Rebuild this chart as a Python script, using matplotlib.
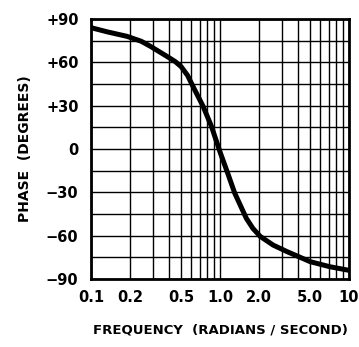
import matplotlib
matplotlib.use("Agg")
import matplotlib.pyplot as plt
from matplotlib.ticker import FixedLocator, NullFormatter, LogLocator

freq = [0.1, 0.135, 0.19, 0.245, 0.29, 0.39, 0.45, 0.5, 0.56, 0.62, 0.74, 0.86, 1.0,
        1.15, 1.3, 1.6, 1.8, 2.05, 2.58, 3.3, 5.0, 7.1, 10]
phase = [84, 81, 78, 74.6, 71, 64, 60.5, 57, 51, 43, 29.5, 15.5, -2,
         -17, -30.5, -48, -55, -60.5, -66.5, -71, -78, -81.5, -84]

xtick_vals = [0.1, 0.2, 0.5, 1.0, 2.0, 5.0, 10]
xtick_labels = ["0.1", "0.2", "0.5", "1.0", "2.0", "5.0", "10"]
ytick_vals = [90, 60, 30, 0, -30, -60, -90]
ytick_labels = ["+90", "+60", "+30", "0", "\u221230", "\u221260", "\u221290"]

plt.rcParams["font.family"] = ["DejaVu Sans"]

fig = plt.figure(figsize=(3.59, 3.47), dpi=100)
ax = fig.add_axes([91/359, 1-279/347, 258/359, 260/347])

ax.plot(freq, phase, color="black", lw=3.6, solid_capstyle="butt",
        solid_joinstyle="round", zorder=3)
ax.set_xscale("log")
ax.set_xlim(0.1, 10)
ax.set_ylim(-90, 90)

ax.xaxis.set_major_locator(FixedLocator(xtick_vals))
ax.set_xticklabels(xtick_labels)
ax.xaxis.set_minor_locator(LogLocator(base=10, subs=range(1, 10)))
ax.xaxis.set_minor_formatter(NullFormatter())
ax.set_yticks(ytick_vals)
ax.set_yticklabels(ytick_labels)
ax.set_yticks(range(-90, 91, 15), minor=True)

ax.grid(True, which="both", color="black", lw=1.0)
ax.tick_params(which="both", length=0)
ax.tick_params(axis="x", pad=8)
ax.tick_params(axis="y", pad=9)
for lab in ax.get_xticklabels() + ax.get_yticklabels():
    lab.set_fontweight("bold")
    lab.set_fontsize(10.5)
for s in ax.spines.values():
    s.set_linewidth(2.0)

ax.set_xlabel("FREQUENCY  (RADIANS / SECOND)", fontsize=9.5, fontweight="bold", labelpad=13)
ax.set_ylabel("PHASE  (DEGREES)", fontsize=10, fontweight="bold", labelpad=10)

fig.savefig("out.png", dpi=100)
